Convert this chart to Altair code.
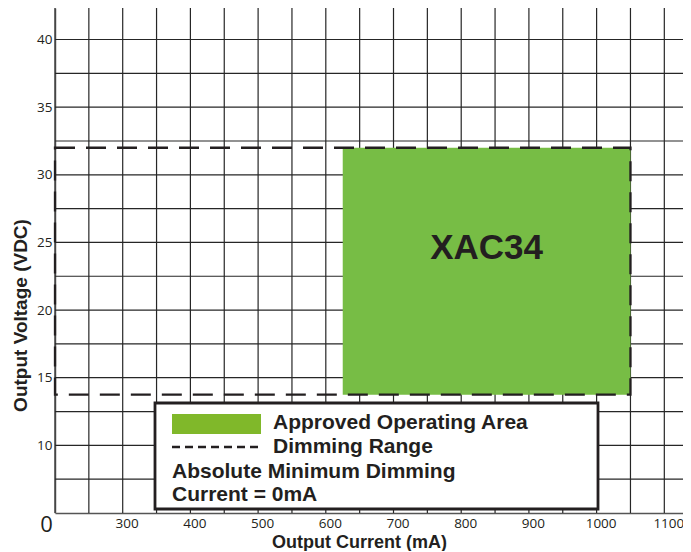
import altair as alt
import pandas as pd

# ---------------- data ----------------
x_domain = [200, 1127.6]          # Output current (mA) visible range
y_domain = [5, 42.33]             # Output voltage (VDC) visible range
x_grid = list(range(200, 1101, 50))
y_grid = [7.5, 10, 12.5, 15, 17.5, 20, 22.5, 25, 27.5, 30, 32.5, 35, 37.5, 40]
x_ticks = [300, 400, 500, 600, 700, 800, 900, 1000, 1100]
y_ticks = [10, 15, 20, 25, 30, 35, 40]

approved_current = [625, 1050]    # mA
approved_voltage = [13.75, 32]    # VDC
dimming_current = [0, 1050]       # mA
dimming_voltage = [13.75, 32]     # VDC
model_name = ["XAC34"]
model_label_pos = [837.5, 24.6]   # (mA, VDC)

legend_items = ["Approved Operating Area", "Dimming Range",
                "Absolute Minimum Dimming", "Current = 0mA"]

approved = pd.DataFrame({"i0": [approved_current[0]], "i1": [approved_current[1]],
                         "v0": [approved_voltage[0]], "v1": [approved_voltage[1]]})
dimming = pd.DataFrame({"i0": [dimming_current[0]], "i1": [dimming_current[1]],
                        "v0": [dimming_voltage[0]], "v1": [dimming_voltage[1]]})
model = pd.DataFrame({"name": model_name, "i": [model_label_pos[0]], "v": [model_label_pos[1]]})
xg = pd.DataFrame({"i": x_grid})
yg = pd.DataFrame({"v": y_grid})
one = pd.DataFrame({"k": [0]})

INK = "#231f20"
GRID = "#262626"
GREEN = "#77bd45"
SWATCH = "#80b82a"
FONT = "Liberation Sans"

xs = alt.Scale(domain=x_domain, nice=False, zero=False)
ys = alt.Scale(domain=y_domain, nice=False, zero=False)

x_axis = alt.Axis(
    values=x_ticks, format="d", grid=False,
    tickSize=0, domainColor="#555555", domainWidth=1.6,
    labelFont="Open Sans", labelFontSize=13.5, labelColor=INK,
    labelPadding=3, labelOffset=4, labelFlush=False, labelOverlap=False,
    labelBaseline="top",
    title="Output Current (mA)", titleFont=FONT, titleFontWeight="bold",
    titleFontSize=18, titleColor=INK, titleX=304, titleY=29,
    titleBaseline="middle", titleAlign="center", titleAnchor="start",
)
y_axis = alt.Axis(
    values=y_ticks, format="d", grid=False,
    tickSize=0, domainColor="#777777", domainWidth=1.6,
    labelFont="Open Sans", labelFontSize=13.5, labelColor=INK,
    labelPadding=3, labelFlush=False, labelOverlap=False,
    title="Output Voltage (VDC)", titleFont=FONT, titleFontWeight="bold",
    titleFontSize=19, titleColor=INK, titleX=-35, titleY=307,
    titleBaseline="middle", titleAlign="center", titleAnchor="start",
)

vgrid = alt.Chart(xg).mark_rule(color=GRID, strokeWidth=1.2).encode(
    x=alt.X("i:Q", scale=xs, axis=x_axis))
hgrid = alt.Chart(yg).mark_rule(color=GRID, strokeWidth=1.2).encode(
    y=alt.Y("v:Q", scale=ys, axis=y_axis))

area = alt.Chart(approved).mark_rect(color=GREEN).encode(
    x="i0:Q", x2="i1:Q", y="v0:Q", y2="v1:Q",
)

dim = alt.Chart(dimming).transform_calculate(
    i0c=f"max(datum.i0, {x_domain[0]})"
).mark_rect(fill=None, fillOpacity=0, stroke=INK, strokeWidth=2.3,
            strokeDash=[20, 11]).encode(
    x="i0c:Q", x2="i1:Q", y="v0:Q", y2="v1:Q",
)

label = alt.Chart(model).mark_text(
    font=FONT, fontWeight="bold", fontSize=35, color=INK,
    align="center", baseline="middle",
).encode(x="i:Q", y="v:Q", text="name:N")

# legend box (layout positions in pixels of the plot area)
box = alt.Chart(one).mark_rect(fill="white", stroke=INK, strokeWidth=2.8).encode(
    x=alt.value(100), x2=alt.value(543), y=alt.value(395), y2=alt.value(501))
swatch = alt.Chart(one).mark_rect(color=SWATCH).encode(
    x=alt.value(117), x2=alt.value(206), y=alt.value(406), y2=alt.value(426))
dash = alt.Chart(one).mark_rule(color=INK, strokeWidth=2.6, strokeDash=[8, 5]).encode(
    x=alt.value(117), x2=alt.value(206), y=alt.value(439))

def legend_text(txt, x, y):
    return alt.Chart(one).mark_text(
        text=txt, font=FONT, fontWeight="bold", fontSize=21, color=INK,
        align="left", baseline="middle",
    ).encode(x=alt.value(x), y=alt.value(y))

t1 = legend_text(legend_items[0], 218, 415)
t2 = legend_text(legend_items[1], 218, 439)
t3 = legend_text(legend_items[2], 117, 464)
t4 = legend_text(legend_items[3], 117, 487)

origin = alt.Chart(one).mark_text(
    text="0", font="Open Sans", fontSize=22, color=INK,
    align="center", baseline="middle",
).encode(x=alt.value(-8.5), y=alt.value(517))

chart = alt.layer(
    vgrid, hgrid, area, dim, label, box, swatch, dash, t1, t2, t3, t4, origin
).properties(
    width=628, height=505,
    autosize=alt.AutoSizeParams(type="none"),
    padding={"left": 47, "top": 0, "right": 0, "bottom": 38},
).configure_view(stroke=None)

chart.save("out.html", embed_options={"renderer": "svg", "actions": False})
